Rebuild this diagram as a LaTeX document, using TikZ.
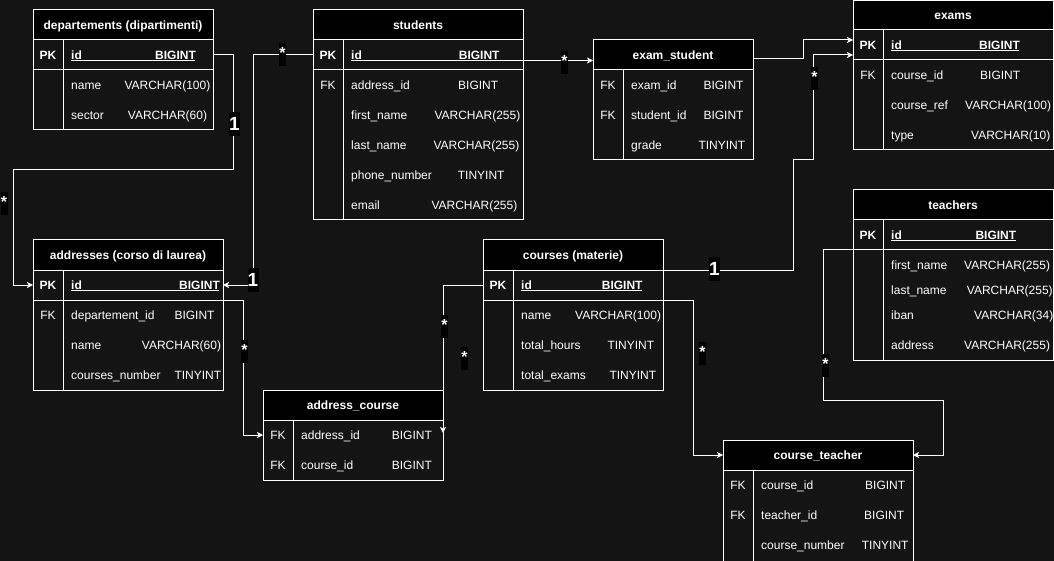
\documentclass[tikz,border=0pt]{standalone}
\usepackage{fontspec}
\setmainfont{Liberation Sans}
\usetikzlibrary{arrows.meta}
\definecolor{bgc}{HTML}{141414}
\newcommand\erf[6]{%
  \node[ftxt] (#1-n) at (#3,#2+4.3) {#4};
  \node[ftxt] (#1-t) at (#5,#2+4.3) {#6};}
\newcommand\erk[5]{%
  \node[#5] (#1) at (#2,#3+4.3) {#4};}
\tikzset{
  tbox/.style={draw=white, fill=bgc, line width=1pt, anchor=north west, inner sep=0pt, outer sep=0pt},
  thead/.style={draw=white, fill=black, line width=1pt, anchor=north west, inner sep=0pt, outer sep=0pt,
    minimum height=30, text=white, font=\fontsize{12}{14}\selectfont\bfseries, text height=8.6pt, text depth=0pt},
  trow/.style={draw=white, line width=1pt, anchor=north west, inner sep=0pt, outer sep=0pt, minimum height=30},
  hrow/.style={draw=none, anchor=north west, inner sep=0pt, outer sep=0pt, minimum height=30},
  ftxt/.style={anchor=base west, inner sep=0pt, text=white, font=\fontsize{12}{14}\selectfont},
  fk/.style={anchor=base, inner sep=0pt, text=white, font=\fontsize{12}{14}\selectfont},
  pk/.style={anchor=base, inner sep=0pt, text=white, font=\fontsize{12}{14}\selectfont\bfseries},
  uline/.style={draw=white, line width=1pt},
  conn/.style={draw=white, line width=1pt, -{Stealth[length=6pt,width=6pt,inset=1.5pt]}},
  star/.style={fill=black, text=white, font=\fontsize{16}{16}\selectfont\bfseries, inner sep=0pt,
    minimum width=7, text height=15.5pt, text depth=7.5pt},
  one/.style={fill=black, text=white, font=\fontsize{19}{19}\selectfont\bfseries, inner sep=0pt,
    minimum width=11, minimum height=24},
}
\begin{document}
\begin{tikzpicture}[x=1pt, y=-1pt]
\useasboundingbox (0,0) rectangle (1054,561);
\fill[bgc] (0,0) rectangle (1054,561);

% ---------- departements
\node[tbox, minimum width=180, minimum height=120] (dep) at (33,10) {};
\node[thead, minimum width=180] (dep-h) at (33,10) {departements (dipartimenti)};
\node[trow, minimum width=180] (dep-id) at (33,40) {};
\draw[uline] (63,40) -- (63,130);
\erk{dep-pk}{48}{55}{PK}{pk}
\erf{dep-f0}{55}{71}{\textbf{id}}{155}{\textbf{BIGINT}}
\draw[uline] (71,60.5) -- (195,60.5);
\erf{dep-f1}{85}{71}{name}{124.3}{VARCHAR(100)}
\erf{dep-f2}{115}{71}{sector}{127.7}{VARCHAR(60)}

% ---------- students
\node[tbox, minimum width=210, minimum height=210] (stu) at (313,10) {};
\node[thead, minimum width=210] (stu-h) at (313,10) {students};
\node[trow, minimum width=210] (stu-id) at (313,40) {};
\draw[uline] (343,40) -- (343,220);
\erk{stu-pk}{328}{55}{PK}{pk}
\erf{stu-f0}{55}{351}{\textbf{id}}{458.7}{\textbf{BIGINT}}
\draw[uline] (351,60.5) -- (523,60.5);
\erk{stu-fk1}{328}{85}{FK}{fk}
\erf{stu-f1}{85}{351}{address\_id}{458}{BIGINT}
\erf{stu-f2}{115}{351}{first\_name}{434.3}{VARCHAR(255)}
\erf{stu-f3}{145}{351}{last\_name}{433.3}{VARCHAR(255)}
\erf{stu-f4}{175}{351}{phone\_number}{457.7}{TINYINT}
\erf{stu-f5}{205}{351}{email}{431.3}{VARCHAR(255)}

% ---------- exam_student
\node[tbox, minimum width=160, minimum height=120] (exs) at (593,40) {};
\node[thead, minimum width=160] (exs-h) at (593,40) {exam\_student};
\draw[uline] (623,70) -- (623,160);
\erk{exs-fk1}{608}{85}{FK}{fk}
\erk{exs-fk2}{608}{115}{FK}{fk}
\erf{exs-f1}{85}{631}{exam\_id}{703.3}{BIGINT}
\erf{exs-f2}{115}{631}{student\_id}{703.3}{BIGINT}
\erf{exs-f3}{145}{631}{grade}{698.3}{TINYINT}

% ---------- exams
\node[tbox, minimum width=200, minimum height=149.5] (exm) at (853,0.5) {};
\node[thead, minimum width=200, minimum height=29.5] (exm-h) at (853,0.5) {exams};
\node[trow, minimum width=200] (exm-id) at (853,30) {};
\draw[uline] (883,30) -- (883,150);
\erk{exm-pk}{868}{45}{PK}{pk}
\erf{exm-f0}{45}{891}{\textbf{id}}{979}{\textbf{BIGINT}}
\draw[uline] (891,50.5) -- (1019,50.5);
\erk{exm-fk1}{868}{75}{FK}{fk}
\erf{exm-f1}{75}{891}{course\_id}{980}{BIGINT}
\erf{exm-f2}{105}{891}{course\_ref}{965}{VARCHAR(100)}
\erf{exm-f3}{135}{891}{type}{971}{VARCHAR(10)}

% ---------- teachers
\node[tbox, minimum width=200, minimum height=170] (tch) at (853,190) {};
\node[thead, minimum width=200] (tch-h) at (853,190) {teachers};
\node[trow, minimum width=200] (tch-id) at (853,220) {};
\draw[uline] (883,220) -- (883,360);
\erk{tch-pk}{868}{235}{PK}{pk}
\erf{tch-f0}{235}{891}{\textbf{id}}{975.3}{\textbf{BIGINT}}
\draw[uline] (891,240.5) -- (1016,240.5);
\erf{tch-f1}{265}{891}{first\_name}{964}{VARCHAR(255)}
\erf{tch-f2}{290}{891}{last\_name}{966.7}{VARCHAR(255)}
\erf{tch-f3}{315}{891}{iban}{974}{VARCHAR(34)}
\erf{tch-f4}{345}{891}{address}{964}{VARCHAR(255)}

% ---------- addresses
\node[tbox, minimum width=190, minimum height=150] (addr) at (33,240) {};
\node[thead, minimum width=190] (addr-h) at (33,240) {addresses (corso di laurea)};
\node[trow, minimum width=190] (addr-id) at (33,270) {};
\draw[uline] (63,270) -- (63,390);
\erk{addr-pk}{48}{285}{PK}{pk}
\erf{addr-f0}{285}{71}{\textbf{id}}{179}{\textbf{BIGINT}}
\draw[uline] (71,290.5) -- (219,290.5);
\erk{addr-fk1}{48}{315}{FK}{fk}
\erf{addr-f1}{315}{71}{departement\_id}{174.3}{BIGINT}
\erf{addr-f2}{345}{71}{name}{141.7}{VARCHAR(60)}
\erf{addr-f3}{375}{71}{courses\_number}{174.3}{TINYINT}

% ---------- address_course
\node[tbox, minimum width=180, minimum height=90] (adc) at (263,390) {};
\node[thead, minimum width=180] (adc-h) at (263,390) {address\_course};
\node[hrow, minimum width=180] (adc-r1) at (263,420) {};
\draw[uline] (293,420) -- (293,480);
\erk{adc-fk1}{278}{435}{FK}{fk}
\erk{adc-fk2}{278}{465}{FK}{fk}
\erf{adc-f1}{435}{301}{address\_id}{391.7}{BIGINT}
\erf{adc-f2}{465}{301}{course\_id}{391.7}{BIGINT}

% ---------- courses
\node[tbox, minimum width=180, minimum height=150] (crs) at (483,240) {};
\node[thead, minimum width=180] (crs-h) at (483,240) {courses (materie)};
\node[trow, minimum width=180] (crs-id) at (483,270) {};
\draw[uline] (513,270) -- (513,390);
\erk{crs-pk}{498}{285}{PK}{pk}
\erf{crs-f0}{285}{521}{\textbf{id}}{601.7}{\textbf{BIGINT}}
\draw[uline] (521,290.5) -- (642,290.5);
\erf{crs-f1}{315}{521}{name}{575}{VARCHAR(100)}
\erf{crs-f2}{345}{521}{total\_hours}{607.3}{TINYINT}
\erf{crs-f3}{375}{521}{total\_exams}{609.3}{TINYINT}

% ---------- course_teacher
\node[tbox, minimum width=190, minimum height=121] (cte) at (723,440) {};
\node[thead, minimum width=190] (cte-h) at (723,440) {course\_teacher};
\draw[uline] (753,470) -- (753,561);
\erk{cte-fk1}{738}{485}{FK}{fk}
\erk{cte-fk2}{738}{515}{FK}{fk}
\erf{cte-f1}{485}{761}{course\_id}{865}{BIGINT}
\erf{cte-f2}{515}{761}{teacher\_id}{864}{BIGINT}
\erf{cte-f3}{545}{761}{course\_number}{861.7}{TINYINT}

% ---------- connectors
\draw[conn] (dep-id.east) -- (233,55) -- (233,170) -- (13,170) |- (addr-id.west);
\draw[conn] (stu-id.west) -- (253,55) |- (addr-id.east);
\draw[conn] ([yshift=-5.5pt]stu-id.east) -- ([yshift=-5.5pt]exs-h.west);
\draw[conn] ([yshift=-4pt]exs-h.east) -- (803,59) |- ([yshift=5pt]exm-id.west);
\draw[conn] (crs-h.south east) -- (793,270) -- (793,160) -- (813,160) |- ([yshift=-10pt]exm-id.west);
\draw[conn] (crs-id.west) -| ([yshift=2pt]adc-r1.east);
\draw[conn] (addr-id.south east) -- (243,300) |- (adc-r1.west);
\draw[conn] (crs-id.south east) -- (693,300) |- (cte-h.west);
\draw[conn] (tch-id.south west) -- (823,250) -- (823,400) -- (943,400) |- (cte-h.east);

% ---------- labels
\node[one] (l-a1) at (234.5,124) {1};
\node[star] (l-a2) at (4,203.5) {*};
\node[star] (l-b1) at (282.5,55) {*};
\node[one] (l-b2) at (253,280) {1};
\node[star] (l-c1) at (564.5,62.5) {*};
\node[one] (l-e1) at (714.5,269) {1};
\node[star] (l-e2) at (814.5,78.5) {*};
\node[star] (l-f1) at (444.5,326.5) {*};
\node[star] (l-f2) at (464.5,358.5) {*};
\node[star] (l-g1) at (244.5,351.5) {*};
\node[star] (l-h1) at (702.5,353) {*};
\node[star] (l-i1) at (825.5,365) {*};
\end{tikzpicture}
\end{document}
